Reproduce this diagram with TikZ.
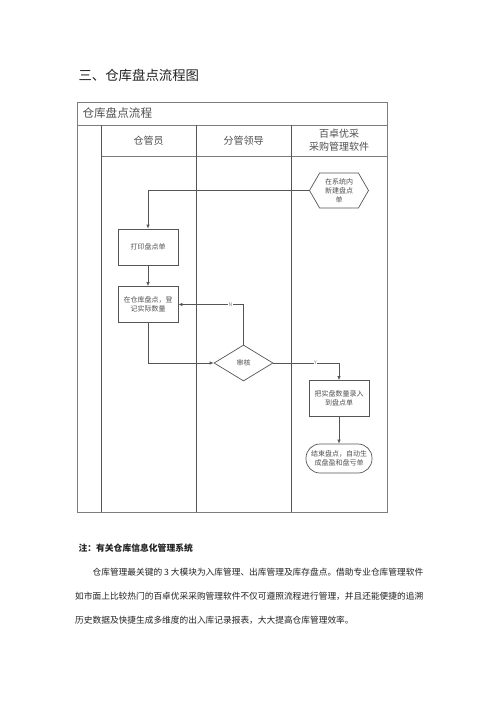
\documentclass[tikz,border=0pt]{standalone}
\usepackage{fontspec}
\setmainfont{Noto Sans CJK SC}
\usepackage{tikz}
\usetikzlibrary{shapes.geometric, shapes.symbols, arrows.meta, positioning}
\definecolor{FlowLine}{RGB}{85, 85, 85}
\definecolor{FlowFrame}{RGB}{125, 125, 125}
\definecolor{FlowText}{RGB}{80, 80, 80}
\definecolor{PageText}{RGB}{35, 35, 35}

\tikzset{
  procbox/.style={draw=FlowLine, line width=0.7pt, minimum width=60pt, minimum height=36pt,
    align=center, inner sep=1pt, text=FlowText, font=\fontsize{7}{9}\selectfont},
  hexbox/.style={signal, signal to=west and east, signal pointer angle=120,
    draw=FlowLine, line width=0.7pt, minimum width=59pt, minimum height=35pt,
    align=center, inner sep=1pt, text=FlowText, font=\fontsize{7}{9}\selectfont},
  checkbox/.style={diamond, draw=FlowLine, line width=0.7pt, minimum width=59pt, minimum height=36pt,
    inner sep=0pt, text=FlowText, font=\fontsize{7}{9}\selectfont},
  endbox/.style={draw=FlowLine, line width=0.7pt, rounded corners=14pt, minimum width=66pt,
    minimum height=29pt, align=center, inner sep=1pt, text=FlowText, font=\fontsize{7}{9}\selectfont},
  lanehead/.style={align=center, text=FlowText, font=\fontsize{10}{13}\selectfont},
  flow/.style={draw=FlowLine, line width=0.7pt, -{Latex[length=4pt, width=3.5pt]}},
  branch/.style={fill=white, inner sep=0.4pt, text=FlowFrame, font=\fontsize{5}{5}\selectfont}
}

\begin{document}
\begin{tikzpicture}[x=1pt,y=-1pt]
  \path[use as bounding box] (0,0) rectangle (500,707);
  \fill[white] (0,0) rectangle (500,707);

  % heading
  \node[anchor=west, text=PageText, font=\fontsize{13.4}{16}\selectfont] (heading) at (75,75) {三、仓库盘点流程图};

  % pool frame and lanes
  \draw[FlowFrame, line width=0.8pt] (77,102) rectangle (387,512);
  \draw[FlowFrame, line width=0.8pt] (77,125) -- (387,125);
  \draw[FlowFrame, line width=0.8pt] (101,156) -- (387,156);
  \draw[FlowLine, line width=0.9pt] (101,125) -- (101,512);
  \draw[FlowLine, line width=0.9pt] (196,125) -- (196,512);
  \draw[FlowLine, line width=0.9pt] (291,125) -- (291,512);

  \node[anchor=west, text=FlowText, font=\fontsize{11.6}{14}\selectfont] (pool) at (79,113.5) {仓库盘点流程};
  \node[lanehead] (keeper) at (148.5,140.5) {仓管员};
  \node[lanehead] (leader) at (243.5,140.5) {分管领导};
  \node[lanehead] (system) at (339,140) {百卓优采\\采购管理软件};

  % steps
  \node[hexbox] (create) at (339,190.5) {在系统内\\新建盘点\\单};
  \node[procbox] (print) at (148,247) {打印盘点单};
  \node[procbox] (count) at (148,304.5) {在仓库盘点，登\\记实际数量};
  \node[checkbox] (audit) at (243.5,363) {审核};
  \node[procbox] (entry) at (339,398.5) {把实盘数量录入\\到盘点单};
  \node[endbox] (finish) at (339,458.5) {结束盘点，自动生\\成盘盈和盘亏单};

  % connectors
  \draw[flow] (create.west) -| (print.north);
  \draw[flow] (print.south) -- (count.north);
  \draw[flow] (count.south) |- (audit.west);
  \draw[flow] (audit.north) |- node[branch, pos=0.6] {N} (count.east);
  \draw[flow] (audit.east) -| node[branch, pos=0.32] {Y} (entry.north);
  \draw[flow] (entry.south) -- (finish.north);

  % note
  \node[anchor=west, text=PageText, font=\fontsize{8.8}{10}\selectfont\bfseries] (note) at (75,548.5) {注：有关仓库信息化管理系统};
  \node[anchor=north west, align=left, inner sep=0pt, text=PageText, font=\fontsize{8.7}{24}\selectfont] (notetext) at (75,568) {%
    \hspace*{17.4pt}仓库管理最关键的 3 大模块为入库管理、出库管理及库存盘点。借助专业仓库管理软件\\
    如市面上比较热门的百卓优采采购管理软件不仅可遵照流程进行管理，并且还能便捷的追溯\\
    历史数据及快捷生成多维度的出入库记录报表，大大提高仓库管理效率。};
\end{tikzpicture}
\end{document}
